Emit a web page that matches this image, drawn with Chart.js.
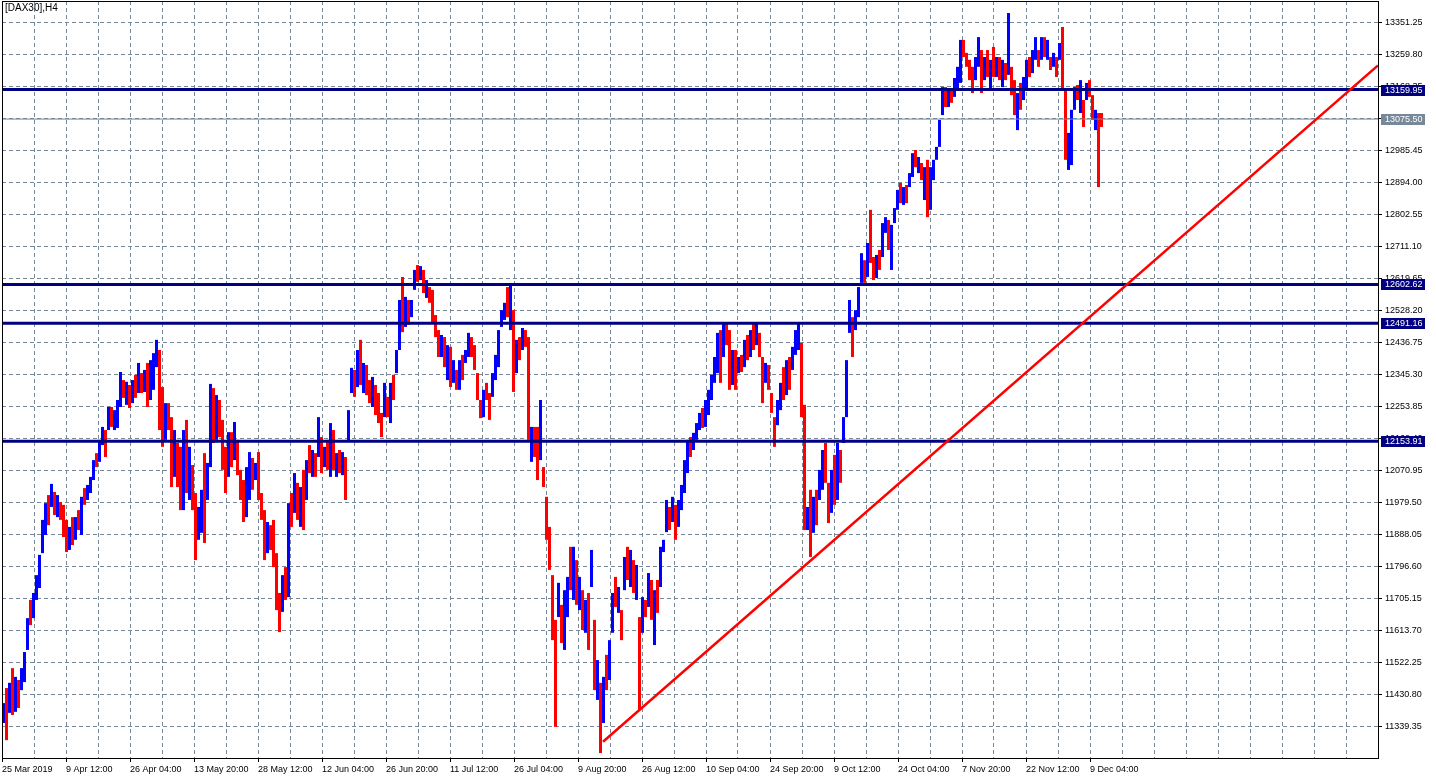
<!DOCTYPE html>
<html><head><meta charset="utf-8">
<script src="https://cdn.jsdelivr.net/npm/chart.js@4.4.1/dist/chart.umd.min.js"></script>
<style>html,body{margin:0;padding:0;background:#fff;overflow:hidden}canvas{display:block}</style>
</head><body>
<canvas id="c" width="1436" height="779"></canvas>
<script>
const symbolTitle = "[DAX30],H4";
const xLabels = ["25 Mar 2019","9 Apr 12:00","26 Apr 04:00","13 May 20:00","28 May 12:00","12 Jun 04:00","26 Jun 20:00","11 Jul 12:00","26 Jul 04:00","9 Aug 20:00","26 Aug 12:00","10 Sep 04:00","24 Sep 20:00","9 Oct 12:00","24 Oct 04:00","7 Nov 20:00","22 Nov 12:00","9 Dec 04:00"];
const yTicks = [11339.35,11430.80,11522.25,11613.70,11705.15,11796.60,11888.05,11979.50,12070.95,12162.40,12253.85,12345.30,12436.75,12528.20,12619.65,12711.10,12802.55,12894.00,12985.45,13076.90,13168.35,13259.80,13351.25];
const levels = [13159.95, 12602.62, 12491.16, 12153.91];
const bidPrice = 13075.50;
const trendStart = [601, 11294.5];
const trendEnd = [1376, 13229];

const highs = [
11405,11448,11463,11505,11480,11471,11505,11551,11648,11700,
11720,11771,11829,11929,11977,12000,12032,12009,12000,11980,
11972,11929,11909,11937,11937,11957,11995,12020,12029,12052,
12100,12120,12158,12195,12186,12252,12252,12243,12272,12352,
12329,12324,12315,12329,12344,12378,12349,12358,12378,12386,
12406,12444,12415,12309,12263,12263,12223,12186,12149,12138,
12186,12215,12138,12086,12006,11966,12015,12120,12092,12318,
12306,12286,12272,12215,12138,12180,12180,12209,12158,12072,
12043,12080,12123,12106,12092,12123,12006,11957,11923,11914,
11929,11834,11720,11771,11794,11977,12006,12063,12035,12023,
12072,12100,12143,12129,12120,12223,12166,12138,12158,12206,
12186,12120,12129,12123,12109,12243,12364,12358,12415,12444,
12378,12372,12329,12338,12315,12292,12235,12321,12281,12321,
12344,12415,12558,12624,12567,12558,12558,12644,12658,12655,
12644,12615,12595,12587,12515,12472,12458,12452,12429,12424,
12386,12358,12386,12401,12415,12464,12452,12429,12349,12272,
12301,12321,12292,12349,12401,12472,12529,12550,12595,12601,
12529,12444,12452,12478,12472,12452,12195,12195,12195,12272,
12080,11995,11909,11771,11643,11749,11686,11728,11766,11852,
11852,11814,11766,11728,11700,11720,11843,11643,11528,11463,
11480,11543,11585,11720,11766,11737,11671,11823,11852,11843,
11814,11800,11651,11708,11700,11777,11757,11728,11757,11852,
11872,11986,11966,11995,11972,11986,12029,12100,12158,12166,
12178,12206,12235,12249,12272,12301,12344,12395,12464,12472,
12492,12495,12472,12415,12415,12395,12401,12444,12458,12472,
12492,12492,12464,12395,12378,12372,12292,12223,12272,12321,
12366,12386,12395,12424,12472,12492,12435,12258,11966,12015,
11995,12015,12072,12129,12149,12035,12072,12115,12149,12129,
12223,12386,12558,12509,12529,12595,12692,12672,12721,12816,
12681,12687,12701,12778,12795,12787,12773,12821,12873,12893,
12881,12887,12921,12978,12987,12967,12950,12938,12959,12938,
12959,12996,13073,13167,13167,13159,13159,13193,13225,13302,
13302,13265,13245,13225,13253,13310,13273,13253,13273,13245,
13282,13253,13253,13245,13236,13379,13225,13187,13150,13179,
13196,13245,13253,13273,13310,13273,13310,13310,13302,13253,
13265,13253,13293,13339,13159,13036,13102,13167,13173,13187,
13130,13179,13187,13144,13102,13093,13093];

const lows = [
11348,11299,11377,11371,11380,11391,11442,11465,11557,11628,
11648,11700,11734,11834,11886,11914,11966,11943,11937,11929,
11880,11837,11843,11857,11872,11900,11886,11972,11986,12006,
12043,12080,12095,12143,12109,12186,12195,12186,12192,12252,
12278,12258,12249,12263,12278,12292,12292,12295,12252,12272,
12301,12366,12186,12138,12158,12186,12023,12052,12023,11957,
11957,12006,11986,11957,11814,11872,11892,11863,11986,12080,
12149,12158,12166,12072,12006,12052,12080,12100,12057,11986,
11923,11937,11986,12015,12043,11986,11929,11814,11834,11843,
11794,11671,11608,11666,11700,11708,11909,11949,11929,11909,
11900,11986,12063,12052,12052,12109,12063,12080,12072,12052,
12072,12052,12063,12057,11986,12152,12292,12281,12309,12315,
12292,12286,12263,12252,12229,12206,12166,12223,12223,12206,
12272,12349,12415,12466,12481,12487,12509,12587,12610,12615,
12578,12564,12550,12492,12452,12395,12395,12366,12329,12309,
12321,12301,12301,12329,12378,12395,12395,12358,12272,12220,
12223,12272,12215,12281,12329,12366,12481,12501,12509,12472,
12295,12349,12386,12415,12424,12158,12095,12109,12043,12100,
12023,11872,11786,11585,11337,11651,11577,11557,11651,11728,
11700,11686,11671,11614,11606,11557,11737,11442,11414,11262,
11348,11442,11471,11606,11680,11663,11585,11728,11757,11737,
11720,11700,11385,11606,11651,11680,11643,11571,11663,11737,
11837,11894,11900,11923,11872,11909,11957,12006,12063,12109,
12129,12158,12186,12192,12195,12229,12272,12321,12349,12321,
12395,12429,12301,12315,12301,12349,12352,12366,12386,12395,
12415,12429,12395,12263,12321,12301,12235,12138,12200,12243,
12272,12286,12301,12358,12401,12415,12223,11900,11900,11823,
11892,11914,11986,12015,12035,11920,11949,11972,11986,12035,
12149,12223,12464,12395,12472,12509,12607,12607,12624,12664,
12615,12621,12644,12681,12750,12701,12644,12778,12816,12835,
12830,12835,12881,12910,12938,12921,12901,12844,12795,12816,
12901,12959,12996,13087,13110,13110,13122,13139,13159,13179,
13253,13225,13187,13150,13187,13225,13150,13187,13196,13159,
13196,13196,13187,13167,13187,13202,13144,13087,13044,13102,
13130,13159,13196,13207,13245,13225,13245,13253,13245,13216,
13225,13196,13245,13159,12959,12930,12944,13102,13130,13093,
13053,13130,13139,13073,13044,12881,13053];

const closes = [
11395,11340,11440,11385,11460,11400,11495,11540,11640,11635,
11710,11760,11820,11920,11960,11930,12020,11960,11990,11940,
11890,11850,11900,11870,11925,11910,11990,11980,12025,12045,
12095,12085,12150,12185,12120,12240,12200,12235,12265,12345,
12290,12315,12255,12320,12290,12370,12300,12350,12260,12380,
12400,12440,12200,12150,12250,12200,12040,12150,12030,11970,
12180,12020,12130,12000,11830,11950,12000,11880,12080,12300,
12160,12270,12180,12090,12020,12170,12095,12200,12070,12000,
11935,12060,12110,12030,12085,11995,11940,11830,11910,11850,
11800,11690,11615,11760,11710,11970,11920,12050,11940,12015,
11910,12090,12070,12120,12060,12210,12075,12130,12085,12195,
12080,12115,12070,12115,11995,12235,12355,12290,12405,12325,
12370,12295,12270,12330,12240,12215,12175,12310,12235,12315,
12285,12405,12550,12480,12555,12495,12550,12635,12620,12650,
12590,12605,12560,12500,12460,12400,12450,12375,12420,12315,
12380,12310,12380,12335,12410,12455,12400,12365,12280,12230,
12295,12280,12225,12340,12395,12465,12520,12545,12515,12595,
12305,12440,12395,12470,12430,12165,12185,12120,12050,12265,
12030,11880,11795,11760,11640,11740,11590,11720,11760,11740,
11845,11700,11760,11620,11690,11570,11835,11450,11520,11275,
11470,11450,11580,11710,11690,11730,11595,11815,11770,11835,
11730,11795,11640,11700,11660,11770,11650,11720,11670,11845,
11865,11980,11910,11990,11880,11980,12025,12095,12150,12120,
12175,12200,12230,12200,12265,12295,12340,12390,12455,12330,
12485,12440,12310,12405,12310,12390,12360,12435,12395,12465,
12420,12485,12400,12275,12370,12310,12245,12150,12265,12315,
12280,12380,12310,12415,12465,12485,12235,11910,11955,11840,
11985,11925,12060,12120,12045,11930,12065,11985,12140,12125,
12215,12375,12540,12405,12520,12585,12680,12615,12710,12670,
12625,12680,12650,12770,12785,12710,12765,12815,12865,12845,
12875,12840,12915,12970,12945,12960,12910,12930,12805,12930,
12950,12990,13065,13160,13115,13150,13128,13185,13215,13295,
13260,13230,13195,13160,13245,13300,13160,13245,13205,13240,
13205,13245,13195,13235,13195,13210,13150,13095,13140,13110,
13190,13240,13205,13265,13300,13235,13300,13260,13295,13225,
13260,13205,13285,13170,12975,13030,13095,13160,13140,13180,
13060,13170,13150,13080,13095,13085,13075.5];

const N = Math.min(highs.length, lows.length, closes.length);
const bars = [], barColors = [];
for (let k = 0; k < N; k++) {
  bars.push({x: 3 * k + 1.5, y: [lows[k], highs[k]]});
  const open = k ? closes[k - 1] : closes[k];
  barColors.push(closes[k] >= open ? '#0000ff' : '#ff0000');
}

Chart.defaults.font.family = '"Liberation Sans", Arial, sans-serif';
Chart.defaults.color = '#000';

const overlay = {
  id: 'overlay',
  afterDraw(chart) {
    const {ctx, chartArea: a, scales: {y}} = chart;
    ctx.save();
    ctx.strokeStyle = '#000';
    ctx.lineWidth = 1;
    ctx.strokeRect(a.left + 0.5, a.top + 0.5, a.right - a.left, a.bottom - a.top);
    ctx.font = '10px "Liberation Sans", Arial, sans-serif';
    ctx.fillStyle = '#000';
    ctx.textBaseline = 'top';
    ctx.textAlign = 'left';
    ctx.fillText(symbolTitle, a.left + 3, a.top + 2);
    ctx.font = '9px "Liberation Sans", Arial, sans-serif';
    ctx.textBaseline = 'middle';
    const boxes = levels.map(v => [v, '#000080']).concat([[bidPrice, '#778899']]);
    boxes.forEach(([v, col]) => {
      const py = Math.round(y.getPixelForValue(v));
      ctx.fillStyle = col;
      ctx.fillRect(a.right + 3, py - 5, 44, 11);
      ctx.fillStyle = '#fff';
      ctx.fillText(v.toFixed(2), a.right + 7, py + 0.5);
    });
    ctx.restore();
  }
};

const hLine = (v, color, width, order) => ({
  type: 'line', data: [{x: 0, y: v}, {x: 1376, y: v}],
  borderColor: color, borderWidth: width, pointRadius: 0, order: order
});

const noPad = s => { s.paddingTop = 0; s.paddingBottom = 0; s.paddingLeft = 0; s.paddingRight = 0; };

new Chart(document.getElementById('c'), {
  type: 'bar',
  data: {
    datasets: [
      {type: 'line', data: [{x: trendStart[0], y: trendStart[1]}, {x: trendEnd[0], y: trendEnd[1]}],
       borderColor: '#ff0000', borderWidth: 2.5, pointRadius: 0, order: 0},
      ...levels.map(v => hLine(v, '#000080', 3, 1)),
      hLine(bidPrice, '#778899', 1, 2),
      {type: 'bar', data: bars, backgroundColor: barColors, barThickness: 3, inflateAmount: 0,
       borderWidth: 0, grouped: false, order: 5}
    ]
  },
  options: {
    responsive: false,
    animation: false,
    layout: {padding: {left: 2, top: 1, right: 0, bottom: 0}},
    plugins: {legend: {display: false}, tooltip: {enabled: false}},
    scales: {
      x: {
        type: 'linear', min: 0, max: 1376, offset: false, bounds: 'data',
        grid: {offset: false, color: '#778899', lineWidth: 1, drawTicks: true, tickLength: 4,
               tickColor: c => (c.tick && c.tick.value % 64 === 0 && c.tick.value / 64 < xLabels.length) ? '#000' : 'rgba(0,0,0,0)',
               tickBorderDash: []},
        border: {display: false, dash: [4, 3]},
        ticks: {autoSkip: false, maxRotation: 0, minRotation: 0, align: 'start', padding: 2,
                color: '#000', font: {size: 9},
                callback: v => (v % 64 === 0 && v / 64 < xLabels.length) ? xLabels[v / 64] : ''},
        afterBuildTicks: s => { const t = []; for (let v = 0; v <= 1376; v += 32) t.push({value: v}); s.ticks = t; },
        afterFit: s => { s.height = 21; noPad(s); }
      },
      y: {
        type: 'linear', position: 'right', min: 11247.9, max: 13413.3, bounds: 'data',
        grid: {color: '#778899', lineWidth: 1, drawTicks: true, tickLength: 4, tickColor: '#000', tickBorderDash: []},
        border: {display: false, dash: [4, 3]},
        ticks: {autoSkip: false, padding: 3, color: '#000', font: {size: 9},
                callback: v => Number(v).toFixed(2)},
        afterBuildTicks: s => { s.ticks = yTicks.map(v => ({value: v})); },
        afterFit: s => { s.width = 58; noPad(s); }
      }
    }
  },
  plugins: [overlay]
});
</script>
</body></html>
